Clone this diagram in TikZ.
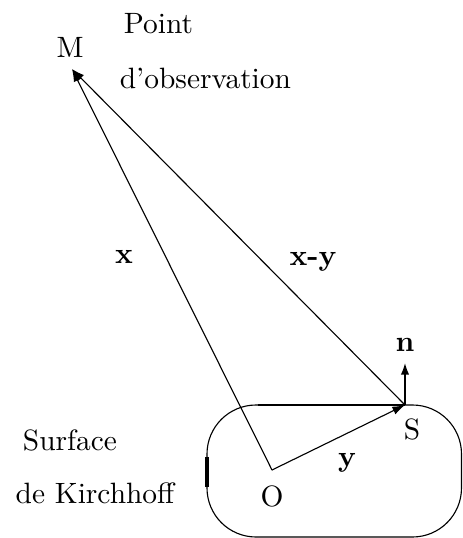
\documentclass[tikz,border=0pt]{standalone}
\usepackage{tikz}
\usetikzlibrary{arrows.meta}
\tikzset{
  vec/.style={line width=0.4pt,-{Latex[length=4.5pt,width=3pt]}},
  thickvec/.style={line width=0.9pt,-{Latex[length=4.5pt,width=3pt]}},
  every node/.style={font=\fontsize{10.5}{12}\selectfont},
}

\begin{document}
\begin{tikzpicture}[x=0.357pt,y=-0.357pt]
\path[use as bounding box] (0,0) rectangle (463,538);
\draw[line width=0.4pt,rounded corners=17.5pt] (207,405) rectangle (461.5,537);
\coordinate (M) at (72,69);
\coordinate (O) at (272,470);
\coordinate (S) at (405,405);
\coordinate (N) at (405,362);
\coordinate (T) at (258,405);
\coordinate (L1) at (207,457);
\coordinate (L2) at (207,487);
\draw[line width=0.9pt] (T) -- (S);
\draw[line width=1.1pt] (L1) -- (L2);
\draw[vec] (O) -- (M);
\draw[vec] (S) -- (M);
\draw[vec] (O) -- (S);
\draw[thickvec] (S) -- (N);
\node (labelM) at (70,47) {M};
\node[anchor=west] (point) at (114,24) {Point};
\node[anchor=west] (obs) at (110,78) {d'observation};
\node (labelx) at (124,257) {\textbf{x}};
\node (labelxy) at (313,262) {\textbf{x-y}};
\node (labeln) at (405,345) {\textbf{n}};
\node (labelS) at (412,429) {S};
\node (labely) at (347,463) {\textbf{y}};
\node (labelO) at (272,496) {O};
\node (surface) at (70,440) {Surface};
\node (kirchhoff) at (95,493) {de Kirchhoff};
\end{tikzpicture}
\end{document}
